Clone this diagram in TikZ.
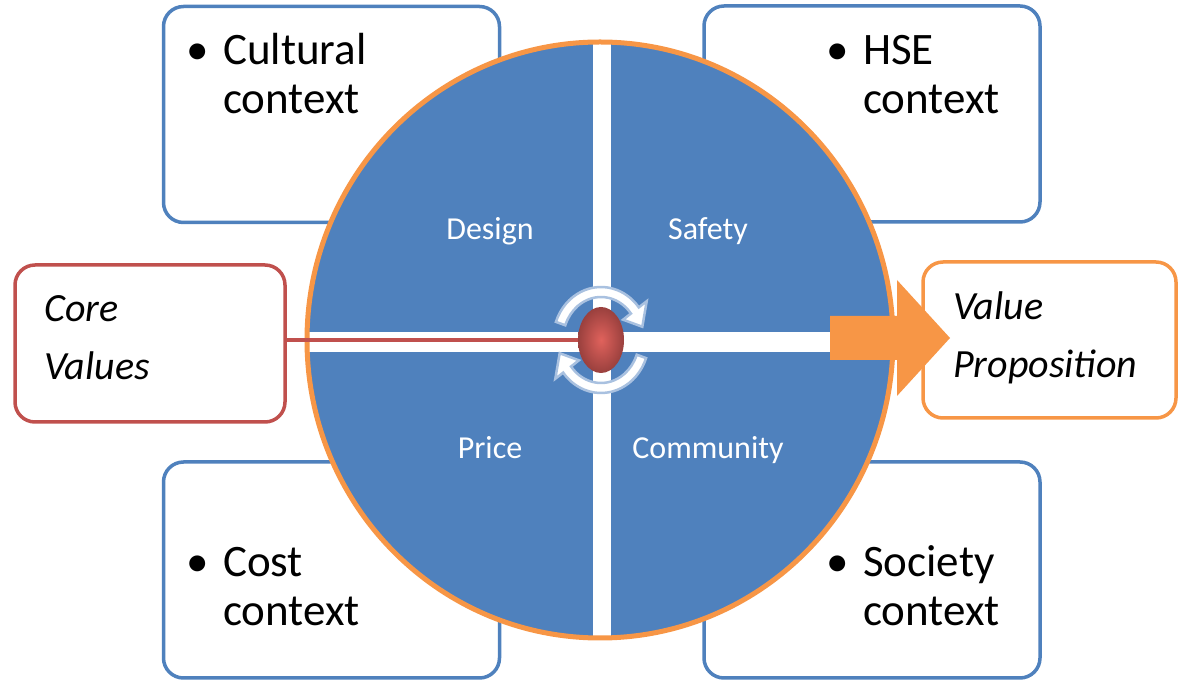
\documentclass[tikz,border=0pt]{standalone}
\usepackage{fontspec}
\setmainfont{Carlito}
\usetikzlibrary{shapes.geometric}
\definecolor{wheelblue}{HTML}{4F81BD}
\definecolor{rimorange}{HTML}{F79646}
\definecolor{corered}{HTML}{C0504D}
\definecolor{egglight}{HTML}{E0625C}
\definecolor{turnblue}{HTML}{A9C1E0}
\newcommand{\bulletpair}[2]{\begin{tabular}[t]{@{}l@{}}\makebox[37pt][l]{\textbullet}#1\\\hspace{37pt}#2\end{tabular}}
\newcommand{\twolines}[2]{\begin{tabular}[t]{@{}l@{}}#1\\#2\end{tabular}}

\begin{document}
\begin{tikzpicture}[x=1pt, y=1pt,
   ctxbox/.style={draw=wheelblue, line width=3.5pt, fill=white, rounded corners=20pt,
      minimum width=336pt, minimum height=216pt},
   ctxtext/.style={anchor=base west, inner sep=0pt, font=\fontsize{45}{49}\selectfont},
   sidebox/.style={line width=3.5pt, fill=white, rounded corners=20pt, minimum height=157pt},
   sidetext/.style={anchor=base west, inner sep=0pt, font=\fontsize{40}{58}\selectfont\itshape},
   part/.style={text=white, anchor=base, inner sep=0pt, font=\fontsize{32}{36}\selectfont}]
      \useasboundingbox (0,0) rectangle (1179,680);

      \node[ctxbox, name=cultbox] at (331.5,565.5) {};
      \node[ctxbox, name=hsebox] at (872,566) {};
      \node[ctxbox, name=costbox] at (331.5,110) {};
      \node[ctxbox, name=socbox] at (872,110) {};

      \node[ctxtext, name=cult] at (186,615) {\bulletpair{Cultural}{context}};
      \node[ctxtext, name=hse] at (826,615) {\bulletpair{HSE}{context}};
      \node[ctxtext, name=cost] at (186,103) {\bulletpair{Cost}{context}};
      \node[ctxtext, name=soc] at (826,103) {\bulletpair{Society}{context}};

      \node[ellipse, fill=wheelblue, inner sep=0pt, minimum width=586pt, minimum height=596pt,
         name=wheel] at (600,340) {};
      \begin{scope}
         \clip (wheel.center) ellipse [x radius=292pt, y radius=297pt];
         \fill[white] (593,30) rectangle (611,650);
         \fill[white] (290,328) rectangle (910,348);
      \end{scope}
      \draw[rimorange, line width=5pt] (wheel.center) ellipse [x radius=293pt, y radius=298pt];

      \node[part, name=design] at (490,440) {Design};
      \node[part, name=safety] at (708,440) {Safety};
      \node[part, name=price] at (490,221) {Price};
      \node[part, name=community] at (708,221) {Community};

      \node[sidebox, draw=corered, minimum width=270pt, name=core] at (150,336.5) {};
      \node[sidetext, name=coretext] at (44,358) {\twolines{Core}{Values}};
      \node[sidebox, draw=rimorange, minimum width=253pt, minimum height=156pt,
         name=valprop] at (1049.5,340) {};
      \node[sidetext, name=valtext] at (953,360) {\twolines{Value}{Proposition}};

      \fill[rimorange] (830,320) -- (897,320) -- (897,284) -- (950,342)
         -- (897,400) -- (897,364) -- (830,364) -- cycle;

      \foreach \r in {0,180}
         \draw[turnblue, line width=2.5pt, fill=white, shift={(601,340)}, rotate=\r]
            (160:48pt and 53pt) arc[start angle=160, end angle=38, x radius=48pt, y radius=53pt]
            -- (38:58pt and 63pt) -- (16:43pt and 48pt) -- (38:28pt and 33pt)
            -- (38:38pt and 43pt) arc[start angle=38, end angle=160, x radius=38pt, y radius=43pt]
            -- cycle;

      \node[ellipse, inner sep=0pt, minimum width=46pt, minimum height=66pt,
         inner color=egglight, outer color=corered!80!black, name=egg] at (601,340) {};
      \draw[corered, line width=4pt] (egg.west -| core.east) -- (egg.west);
   \end{tikzpicture}
\end{document}
